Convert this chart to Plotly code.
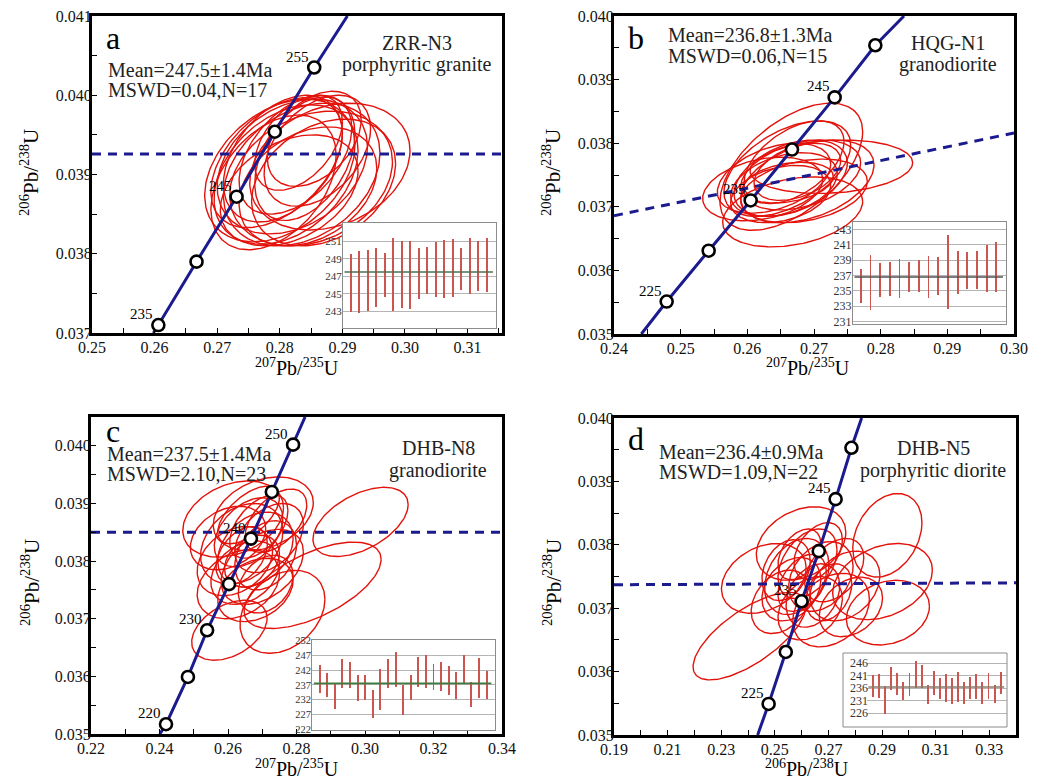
import numpy as np
import plotly.graph_objects as go

# ======================= DATA =======================
# ---- Panel a : ZRR-N3 porphyritic granite ----
A_CONC_AGE = [235, 240, 245, 250, 255]
A_CONC_X = [0.2606, 0.2667, 0.2731, 0.2792, 0.2855]
A_CONC_Y = [0.03710, 0.03790, 0.03872, 0.03954, 0.04035]
A_CONC_END_X = [0.2598, 0.2908]
A_CONC_END_Y = [0.0370, 0.0410]
A_LABELLED = [235, 245, 255]
A_REG_X = [0.25, 0.3155]
A_REG_Y = [0.03926, 0.03926]
A_ELL_CX = [0.2800, 0.2810, 0.2820, 0.2835, 0.2850, 0.2880, 0.2790, 0.2805, 0.2825,
            0.2815, 0.2840, 0.2860, 0.2845, 0.2795, 0.2870, 0.2830, 0.2855]
A_ELL_CY = [0.03905, 0.03900, 0.03910, 0.03900, 0.03895, 0.03910, 0.03890, 0.03920, 0.03925,
            0.03880, 0.03920, 0.03930, 0.03885, 0.03915, 0.03890, 0.03940, 0.03945]
A_ELL_SX = [0.0120, 0.0115, 0.0120, 0.0125, 0.0130, 0.0128, 0.0100, 0.0095, 0.0090,
            0.0110, 0.0080, 0.0085, 0.0110, 0.0105, 0.0115, 0.0070, 0.0075]
A_ELL_SY = [0.00090, 0.00088, 0.00085, 0.00090, 0.00085, 0.00080, 0.00085, 0.00080, 0.00075,
            0.00070, 0.00078, 0.00070, 0.00075, 0.00082, 0.00080, 0.00060, 0.00060]
A_ELL_RHO = [0.35, 0.35, 0.30, 0.30, 0.25, 0.25, 0.40, 0.40, 0.45,
             0.35, 0.40, 0.40, 0.30, 0.45, 0.30, 0.45, 0.40]
A_AGE_LOW = [242.9, 242.8, 243.0, 243.5, 244.6, 243.0, 243.4, 243.3, 244.4,
             245.0, 244.7, 244.5, 244.6, 245.5, 245.0, 245.3, 245.2]
A_AGE_HIGH = [249.6, 249.9, 250.0, 250.3, 249.7, 251.4, 251.0, 251.1, 250.2,
              250.4, 250.9, 251.2, 251.3, 250.2, 251.4, 251.0, 251.4]
A_MEAN = 247.5
A_TICKS = [243, 245, 247, 249, 251]
A_TEXT = ["Mean=247.5±1.4Ma", "MSWD=0.04,N=17", "ZRR-N3", "porphyritic granite", "a"]

# ---- Panel b : HQG-N1 granodiorite ----
B_CONC_AGE = [225, 230, 235, 240, 245, 250]
B_CONC_X = [0.2479, 0.2542, 0.2605, 0.2667, 0.2731, 0.2792]
B_CONC_Y = [0.03551, 0.03631, 0.03710, 0.03790, 0.03872, 0.03954]
B_CONC_END_X = [0.2441, 0.2835]
B_CONC_END_Y = [0.0350, 0.0400]
B_LABELLED = [225, 235, 245]
B_REG_X = [0.24, 0.30]
B_REG_Y = [0.03686, 0.03816]
B_ELL_CX = [0.2666, 0.2726, 0.2668, 0.2623, 0.2661, 0.2660, 0.2665, 0.2680,
            0.2655, 0.2690, 0.2650, 0.2670, 0.2640, 0.2685, 0.2675]
B_ELL_CY = [0.03763, 0.03763, 0.03692, 0.03728, 0.03738, 0.03760, 0.03745, 0.03750,
            0.03735, 0.03740, 0.03720, 0.03770, 0.03745, 0.03725, 0.03755]
B_ELL_SX = [0.0107, 0.0122, 0.0105, 0.0090, 0.0068, 0.0095, 0.0085, 0.0090,
            0.0080, 0.0100, 0.0075, 0.0075, 0.0085, 0.0095, 0.0065]
B_ELL_SY = [0.00100, 0.00042, 0.00055, 0.00050, 0.00032, 0.00075, 0.00060, 0.00055,
            0.00050, 0.00065, 0.00045, 0.00065, 0.00055, 0.00050, 0.00045]
B_ELL_RHO = [0.55, 0.15, 0.30, 0.30, 0.30, 0.50, 0.40, 0.35,
             0.35, 0.40, 0.30, 0.50, 0.40, 0.30, 0.40]
B_AGE_LOW = [233.4, 232.5, 234.2, 234.4, 234.1, 234.8, 234.8, 234.1,
             234.5, 232.7, 234.6, 235.3, 235.2, 234.9, 234.9]
B_AGE_HIGH = [237.8, 239.7, 238.6, 238.7, 239.2, 238.8, 239.0, 239.5,
              239.4, 242.2, 240.2, 240.0, 240.2, 240.9, 241.4]
B_MEAN = 236.8
B_TICKS = [231, 233, 235, 237, 239, 241, 243]
B_TEXT = ["Mean=236.8±1.3Ma", "MSWD=0.06,N=15", "HQG-N1", "granodiorite", "b"]

# ---- Panel c : DHB-N8 granodiorite ----
C_CONC_AGE = [220, 225, 230, 235, 240, 245, 250]
C_CONC_X = [0.2419, 0.2483, 0.2539, 0.2603, 0.2667, 0.2728, 0.2790]
C_CONC_Y = [0.03517, 0.03599, 0.03680, 0.03760, 0.03839, 0.03920, 0.04002]
C_CONC_END_X = [0.2401, 0.2825]
C_CONC_END_Y = [0.0350, 0.0405]
C_LABELLED = [220, 230, 240, 250]
C_REG_X = [0.22, 0.34]
C_REG_Y = [0.03850, 0.03850]
C_ELL_CX = [0.2987, 0.2847, 0.2759, 0.2604, 0.2615, 0.2703, 0.2640, 0.2680, 0.2620, 0.2700,
            0.2660, 0.2720, 0.2650, 0.2690, 0.2630, 0.2710, 0.2670, 0.2600, 0.2740, 0.2680,
            0.2660, 0.2710, 0.2640]
C_ELL_CY = [0.03868, 0.03758, 0.03712, 0.03680, 0.03873, 0.03882, 0.03830, 0.03820, 0.03800,
            0.03790, 0.03850, 0.03840, 0.03780, 0.03860, 0.03760, 0.03810, 0.03800, 0.03840,
            0.03870, 0.03750, 0.03880, 0.03760, 0.03810]
C_ELL_SX = [0.0139, 0.0200, 0.0124, 0.0110, 0.0147, 0.0146, 0.0120, 0.0110, 0.0110, 0.0120,
            0.0100, 0.0100, 0.0100, 0.0085, 0.0120, 0.0090, 0.0080, 0.0110, 0.0090, 0.0110,
            0.0090, 0.0080, 0.0075]
C_ELL_SY = [0.00060, 0.00075, 0.00072, 0.00052, 0.00066, 0.00064, 0.00070, 0.00065, 0.00060,
            0.00065, 0.00060, 0.00060, 0.00055, 0.00055, 0.00060, 0.00060, 0.00045, 0.00055,
            0.00055, 0.00055, 0.00050, 0.00050, 0.00050]
C_ELL_RHO = [0.50, 0.60, 0.30, 0.40, 0.30, 0.30, 0.30, 0.30, 0.30, 0.40, 0.40, 0.40, 0.30,
             0.50, 0.30, 0.30, 0.30, 0.30, 0.50, 0.30, 0.60, 0.30, 0.40]
C_AGE_LOW = [234.1, 232.8, 228.7, 235.8, 235.8, 231.5, 231.9, 225.6, 228.5, 236.1, 236.4, 226.8,
             231.9, 236.4, 236.1, 235.3, 235.0, 233.6, 232.2, 237.6, 229.6, 232.5, 232.2]
C_AGE_HIGH = [243.7, 241.1, 237.5, 245.7, 244.9, 240.4, 240.2, 235.3, 242.3, 245.9, 248.1, 236.8,
              240.4, 246.3, 247.2, 244.0, 244.7, 243.3, 241.3, 247.0, 238.1, 246.1, 241.8]
C_MEAN = 237.5
C_TICKS = [222, 227, 232, 237, 242, 247, 252]
C_TEXT = ["Mean=237.5±1.4Ma", "MSWD=2.10,N=23", "DHB-N8", "granodiorite", "c"]

# ---- Panel d : DHB-N5 porphyritic diorite ----
D_CONC_AGE = [225, 230, 235, 240, 245, 250]
D_CONC_X = [0.2477, 0.2541, 0.2600, 0.2664, 0.2727, 0.2786]
D_CONC_Y = [0.03549, 0.03631, 0.03711, 0.03790, 0.03872, 0.03953]
D_CONC_END_X = [0.2436, 0.2824]
D_CONC_END_Y = [0.0350, 0.0400]
D_LABELLED = [225, 235, 245]
D_REG_X = [0.19, 0.34]
D_REG_Y = [0.03737, 0.03740]
D_ELL_CX = [0.2406, 0.2920, 0.2902, 0.2922, 0.2598, 0.2459, 0.2710, 0.2784, 0.2582, 0.2622,
            0.2562, 0.2642, 0.2602, 0.2672, 0.2542, 0.2722, 0.2632, 0.2592, 0.2762, 0.2522,
            0.2662, 0.2702]
D_ELL_CY = [0.03656, 0.03815, 0.03742, 0.03693, 0.03802, 0.03747, 0.03697, 0.03702, 0.03750,
            0.03770, 0.03730, 0.03720, 0.03740, 0.03750, 0.03760, 0.03760, 0.03700, 0.03785,
            0.03735, 0.03710, 0.03790, 0.03725]
D_ELL_SX = [0.0211, 0.0129, 0.0186, 0.0155, 0.0167, 0.0158, 0.0143, 0.0118, 0.0120, 0.0110,
            0.0110, 0.0100, 0.0090, 0.0120, 0.0090, 0.0110, 0.0120, 0.0080, 0.0130, 0.0110,
            0.0090, 0.0085]
D_ELL_SY = [0.00069, 0.00066, 0.00060, 0.00051, 0.00058, 0.00055, 0.00058, 0.00047, 0.00060,
            0.00055, 0.00050, 0.00050, 0.00045, 0.00055, 0.00048, 0.00050, 0.00050, 0.00040,
            0.00055, 0.00050, 0.00045, 0.00045]
D_ELL_RHO = [0.70, 0.30, 0.30, 0.20, 0.30, 0.30, 0.30, 0.30, 0.30, 0.40, 0.30, 0.30, 0.40,
             0.30, 0.30, 0.40, 0.30, 0.40, 0.30, 0.30, 0.40, 0.30]
D_AGE_LOW = [232.5, 232.1, 225.5, 235.2, 233.2, 231.1, 232.9, 235.9, 235.9, 229.8, 233.4,
             231.8, 230.5, 229.8, 230.5, 229.8, 231.8, 231.5, 229.8, 231.8, 230.2, 233.8]
D_AGE_HIGH = [241.3, 241.5, 236.9, 244.6, 242.0, 238.6, 242.0, 246.9, 245.1, 237.2, 242.9,
              239.9, 241.5, 239.9, 242.4, 238.3, 240.6, 241.5, 238.3, 242.0, 237.2, 242.6]
D_MEAN = 236.4
D_TICKS = [226, 231, 236, 241, 246]
D_TEXT = ["Mean=236.4±0.9Ma", "MSWD=1.09,N=22", "DHB-N5", "porphyritic diorite", "d"]

X_TITLE_207 = "<sup>207</sup>Pb/<sup>235</sup>U"
X_TITLE_206 = "<sup>206</sup>Pb/<sup>238</sup>U"
Y_TITLE = "<sup>206</sup>Pb/<sup>238</sup>U"

# ======================= LAYOUT / STYLE =======================
W, H = 1054, 781
FONT = "Liberation Serif, Times New Roman, serif"
RED = "#e3120b"
NAVY = "#1b1b8f"
BAR_RED = "#cc5550"


def px(x):
    return x / W


def py(y):
    return 1 - y / H


PANELS = [
    dict(key="a", box=(92, 502, 16, 333), xr=[0.25, 0.3155], yr=[0.037, 0.041], xd=0.01, x0=0.25,
         inset=(343, 496, 223, 328), ixr=[0.1, 18.1], iyr=[241.1, 253.1], outer=None,
         ifont=11, mean_col="#4f6e4f", bw=0.22,
         mean_xy=(106, 70, 90), name_xy=(417, 43, 65), letter_xy=(104, 38),
         ytitle=(30, 173), xtitle=(297, 367), xtitle_text=X_TITLE_207,
         conc=(A_CONC_AGE, A_CONC_X, A_CONC_Y, A_CONC_END_X, A_CONC_END_Y, A_LABELLED),
         reg=(A_REG_X, A_REG_Y),
         ell=(A_ELL_CX, A_ELL_CY, A_ELL_SX, A_ELL_SY, A_ELL_RHO),
         ages=(A_AGE_LOW, A_AGE_HIGH, A_MEAN, A_TICKS), text=A_TEXT),
    dict(key="b", box=(614, 1014, 16, 334), xr=[0.24, 0.30], yr=[0.035, 0.040], xd=0.01, x0=0.24,
         inset=(853, 1006, 222, 324), ixr=[0.2, 16.0], iyr=[230.7, 243.95], outer=None,
         ifont=12, mean_col="#505050", bw=0.19,
         mean_xy=(666, 35, 56), name_xy=(948, 43, 64), letter_xy=(626, 38),
         ytitle=(552, 173), xtitle=(808, 367), xtitle_text=X_TITLE_207,
         conc=(B_CONC_AGE, B_CONC_X, B_CONC_Y, B_CONC_END_X, B_CONC_END_Y, B_LABELLED),
         reg=(B_REG_X, B_REG_Y),
         ell=(B_ELL_CX, B_ELL_CY, B_ELL_SX, B_ELL_SY, B_ELL_RHO),
         ages=(B_AGE_LOW, B_AGE_HIGH, B_MEAN, B_TICKS), text=B_TEXT),
    dict(key="c", box=(91, 502, 417, 734), xr=[0.22, 0.34], yr=[0.035, 0.0405], xd=0.02, x0=0.22,
         inset=(312, 495, 640, 730), ixr=[0.0, 24.1], iyr=[221.7, 252.2], outer=None,
         ifont=10.5, mean_col="#3f7a3f", bw=0.26,
         mean_xy=(105, 454, 474), name_xy=(438, 448, 470), letter_xy=(104, 431),
         ytitle=(30, 583), xtitle=(297, 768), xtitle_text=X_TITLE_207,
         conc=(C_CONC_AGE, C_CONC_X, C_CONC_Y, C_CONC_END_X, C_CONC_END_Y, C_LABELLED),
         reg=(C_REG_X, C_REG_Y),
         ell=(C_ELL_CX, C_ELL_CY, C_ELL_SX, C_ELL_SY, C_ELL_RHO),
         ages=(C_AGE_LOW, C_AGE_HIGH, C_MEAN, C_TICKS), text=C_TEXT),
    dict(key="d", box=(614, 1016, 418, 735), xr=[0.19, 0.34], yr=[0.035, 0.040], xd=0.02, x0=0.19,
         inset=(867, 1007, 653, 727), ixr=[0.0, 23.05], iyr=[220.4, 250.0], outer=(843, 1007, 653, 727),
         ifont=12, mean_col="#8a7b6b", bw=0.32,
         mean_xy=(657, 452, 472), name_xy=(933, 448, 470), letter_xy=(626, 439),
         ytitle=(552, 583), xtitle=(807, 768), xtitle_text=X_TITLE_206,
         conc=(D_CONC_AGE, D_CONC_X, D_CONC_Y, D_CONC_END_X, D_CONC_END_Y, D_LABELLED),
         reg=(D_REG_X, D_REG_Y),
         ell=(D_ELL_CX, D_ELL_CY, D_ELL_SX, D_ELL_SY, D_ELL_RHO),
         ages=(D_AGE_LOW, D_AGE_HIGH, D_MEAN, D_TICKS), text=D_TEXT),
]


def ellipse_path(cx, cy, sx, sy, rho, n=160):
    xs, ys = [], []
    t = np.linspace(0, 2 * np.pi, n)
    for a, b, c, d, r in zip(cx, cy, sx, sy, rho):
        x = a + c * np.cos(t)
        y = b + d * (r * np.cos(t) + np.sqrt(1 - r * r) * np.sin(t))
        xs += list(x) + [None]
        ys += list(y) + [None]
    return xs, ys


fig = go.Figure()
layout = dict(
    width=W, height=H, margin=dict(l=0, r=0, t=0, b=0, autoexpand=False),
    paper_bgcolor="white", plot_bgcolor="white", showlegend=False,
    font=dict(family=FONT, color="black"), bargap=0,
)
annotations = []
shapes = []

for i, p in enumerate(PANELS):
    n_main = i + 1
    n_in = i + 5
    xa = "x" if n_main == 1 else f"x{n_main}"
    ya = "y" if n_main == 1 else f"y{n_main}"
    xi, yi = f"x{n_in}", f"y{n_in}"
    l, r, t, b = p["box"]

    axis_common = dict(
        automargin=False,
        showline=True, linecolor="black", linewidth=3, mirror=True,
        ticks="inside", ticklen=5, tickwidth=1, tickcolor="black",
        showgrid=False, zeroline=False,
        tickfont=dict(family=FONT, size=16, color="#111"),
    )
    layout["xaxis" if n_main == 1 else f"xaxis{n_main}"] = dict(
        axis_common, domain=[px(l), px(r)], range=p["xr"], anchor=ya,
        tick0=p["x0"], dtick=p["xd"], tickformat=".2f", ticklabelstandoff=-2,
        minor=dict(ticks="inside", ticklen=5, tickcolor="black", dtick=p["xd"] / 2, tick0=p["x0"]),
    )
    layout["yaxis" if n_main == 1 else f"yaxis{n_main}"] = dict(
        axis_common, domain=[py(b), py(t)], range=p["yr"], anchor=xa,
        tick0=0.035, dtick=0.001, tickformat=".3f", ticklabelstandoff=-6,
        minor=dict(ticks="inside", ticklen=5, tickcolor="black", dtick=0.0005, tick0=0.035),
    )

    # ellipses
    ex, ey = ellipse_path(*p["ell"])
    fig.add_trace(go.Scatter(x=ex, y=ey, mode="lines", line=dict(color=RED, width=1.4),
                             xaxis=xa, yaxis=ya, hoverinfo="skip"))
    # regression / reference dashed line
    rx, ry = p["reg"]
    fig.add_trace(go.Scatter(x=rx, y=ry, mode="lines", line=dict(color=NAVY, width=3, dash="9px,7px"),
                             xaxis=xa, yaxis=ya, hoverinfo="skip"))
    # concordia
    ages, cxs, cys, endx, endy, labelled = p["conc"]
    fig.add_trace(go.Scatter(x=[endx[0]] + cxs + [endx[1]], y=[endy[0]] + cys + [endy[1]],
                             mode="lines", line=dict(color=NAVY, width=3),
                             xaxis=xa, yaxis=ya, hoverinfo="skip"))
    fig.add_trace(go.Scatter(x=cxs, y=cys, mode="markers",
                             marker=dict(size=12, color="white", line=dict(color="black", width=2.6)),
                             xaxis=xa, yaxis=ya, hoverinfo="skip", cliponaxis=False))
    for age, cx_, cy_ in zip(ages, cxs, cys):
        if age in labelled:
            annotations.append(dict(x=cx_, y=cy_, xref=xa, yref=ya, text=str(age), showarrow=False,
                                    xanchor="right", yanchor="middle", xshift=-3, yshift=11,
                                    font=dict(family=FONT, size=15, color="black")))

    # inset
    il, ir, it, ib = p["inset"]
    low, high, mean, ticks = p["ages"]
    idx = list(range(1, len(low) + 1))
    show_box = p["outer"] is None
    layout[f"xaxis{n_in}"] = dict(domain=[px(il), px(ir)], range=p["ixr"], anchor=yi, automargin=False,
                                 showticklabels=False, ticks="", showgrid=False, zeroline=False,
                                 showline=show_box, linecolor="#8c8c8c", linewidth=1, mirror=True)
    layout[f"yaxis{n_in}"] = dict(domain=[py(ib), py(it)], range=p["iyr"], anchor=xi, automargin=False,
                                 tickvals=ticks, ticks="", showgrid=True, gridcolor="#b5b5b5",
                                 gridwidth=1, zeroline=False, ticklabelstandoff=-2,
                                 showline=show_box, linecolor="#8c8c8c", linewidth=1, mirror=True,
                                 tickfont=dict(family=FONT, size=p["ifont"], color="#333"))
    if p["outer"] is not None:
        ol, orr, ot, ob = p["outer"]
        shapes.append(dict(type="rect", xref="paper", yref="paper", x0=px(ol), x1=px(orr),
                           y0=py(ob), y1=py(ot), line=dict(color="#8c8c8c", width=1),
                           fillcolor="rgba(0,0,0,0)", layer="above"))
    shapes.append(dict(type="line", xref=f"{xi} domain", yref=yi, x0=0.01, x1=0.98, y0=mean, y1=mean,
                       line=dict(color=p["mean_col"], width=1.6), layer="above"))
    fig.add_trace(go.Bar(x=idx, y=[h - lo for lo, h in zip(low, high)], base=low, width=p["bw"],
                         marker=dict(color=BAR_RED, line=dict(width=0)),
                         xaxis=xi, yaxis=yi, hoverinfo="skip"))

    # texts
    mx, my1, my2 = p["mean_xy"]
    txt = p["text"]
    annotations.append(dict(x=px(mx), y=py(my1), xref="paper", yref="paper", text=txt[0],
                            showarrow=False, xanchor="left", yanchor="middle",
                            font=dict(family=FONT, size=20, color="#222")))
    annotations.append(dict(x=px(mx), y=py(my2), xref="paper", yref="paper", text=txt[1],
                            showarrow=False, xanchor="left", yanchor="middle",
                            font=dict(family=FONT, size=20, color="#222")))
    nx, ny1, ny2 = p["name_xy"]
    annotations.append(dict(x=px(nx), y=py(ny1), xref="paper", yref="paper", text=txt[2],
                            showarrow=False, xanchor="center", yanchor="middle",
                            font=dict(family=FONT, size=20, color="#222")))
    annotations.append(dict(x=px(nx), y=py(ny2), xref="paper", yref="paper", text=txt[3],
                            showarrow=False, xanchor="center", yanchor="middle",
                            font=dict(family=FONT, size=20, color="#222")))
    lx, ly = p["letter_xy"]
    annotations.append(dict(x=px(lx), y=py(ly), xref="paper", yref="paper", text=txt[4],
                            showarrow=False, xanchor="left", yanchor="middle",
                            font=dict(family=FONT, size=32, color="black")))
    tx, ty = p["ytitle"]
    annotations.append(dict(x=px(tx), y=py(ty), xref="paper", yref="paper", text=Y_TITLE,
                            showarrow=False, xanchor="center", yanchor="middle", textangle=-90,
                            font=dict(family=FONT, size=21, color="black")))
    tx, ty = p["xtitle"]
    annotations.append(dict(x=px(tx), y=py(ty), xref="paper", yref="paper", text=p["xtitle_text"],
                            showarrow=False, xanchor="center", yanchor="middle",
                            font=dict(family=FONT, size=20, color="black")))

layout["annotations"] = annotations
layout["shapes"] = shapes
fig.update_layout(**layout)
fig.write_html("out.html", config={"displayModeBar": False, "staticPlot": True},
               post_script="document.body.style.margin='0';document.body.style.padding='0';")
